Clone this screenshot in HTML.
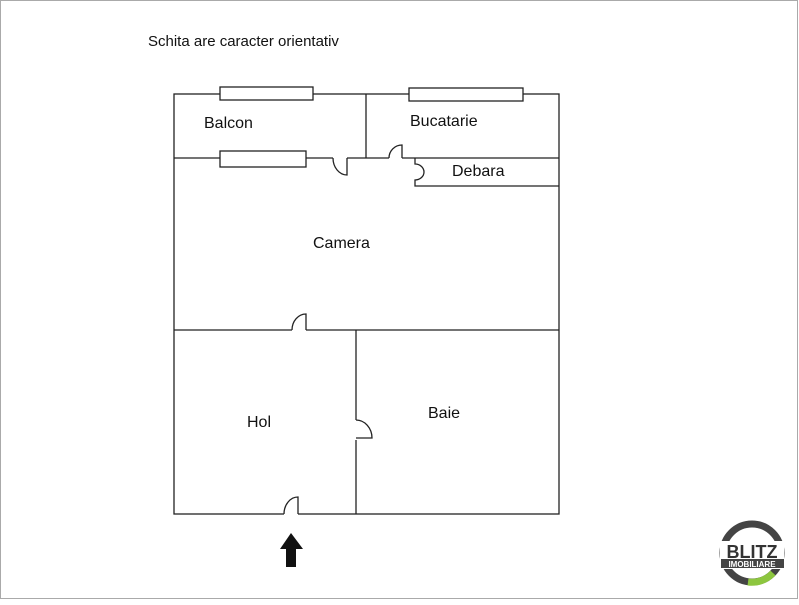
<!DOCTYPE html>
<html><head><style>
body{margin:0;width:799px;height:600px;background:#fff;overflow:hidden}
</style></head><body>
<svg width="799" height="600" xmlns="http://www.w3.org/2000/svg">
<rect x="0.5" y="0.5" width="797" height="598" fill="#fff" stroke="#aaa"/>
<text x="148" y="46" font-family="Liberation Sans, sans-serif" font-size="15" fill="#111">Schita are caracter orientativ</text>
<g fill="none" stroke="#222" stroke-width="1.3">
<rect x="174" y="94" width="385" height="420"/>
<line x1="366" y1="94" x2="366" y2="158"/>
<line x1="174" y1="158" x2="333" y2="158"/>
<line x1="347" y1="158" x2="389" y2="158"/>
<line x1="402" y1="158" x2="559" y2="158"/>
<path d="M347 158 V175 A14 17 0 0 1 333 158"/>
<path d="M402 158 V145 A13 13 0 0 0 389 158"/>
<path d="M415 158 V164 A9 8 0 0 1 415 180 V186 H559"/>
<line x1="174" y1="330" x2="292" y2="330"/>
<line x1="306" y1="330" x2="559" y2="330"/>
<path d="M306 330 V314 A14 16 0 0 0 292 330"/>
<line x1="356" y1="330" x2="356" y2="420"/>
<line x1="356" y1="440" x2="356" y2="514"/>
<path d="M356 420 A16 18 0 0 1 372 438 H356"/>
<rect x="284" y="505" width="14" height="12" fill="#fff" stroke="none"/>
<path d="M298 514 V497 A14 17 0 0 0 284 514"/>
<rect x="220" y="87" width="93" height="13" fill="#fff"/>
<rect x="409" y="88" width="114" height="13" fill="#fff"/>
<rect x="220" y="151" width="86" height="16" fill="#fff"/>
</g>
<path d="M291 533 L303 549 H296 V567 H286 V549 H280 Z" fill="#111"/>
<g font-family="Liberation Sans, sans-serif" font-size="16" fill="#111">
<text x="204" y="128">Balcon</text>
<text x="410" y="126">Bucatarie</text>
<text x="452" y="176">Debara</text>
<text x="313" y="248">Camera</text>
<text x="247" y="427">Hol</text>
<text x="428" y="418">Baie</text>
</g>
<circle cx="752" cy="553" r="29" fill="none" stroke="#444" stroke-width="7"/>
<path d="M773 573 A29 29 0 0 1 748 582" fill="none" stroke="#8dc63f" stroke-width="7"/>
<rect x="720" y="541" width="64" height="28" fill="#fff"/>
<text x="752" y="558" text-anchor="middle" font-family="Liberation Sans, sans-serif" font-weight="bold" font-size="18" fill="#333">BLITZ</text>
<rect x="721" y="559" width="63" height="9" fill="#444"/>
<text x="752" y="567" text-anchor="middle" font-family="Liberation Sans, sans-serif" font-weight="bold" font-size="8" fill="#fff">IMOBILIARE</text>
</svg>
</body></html>
